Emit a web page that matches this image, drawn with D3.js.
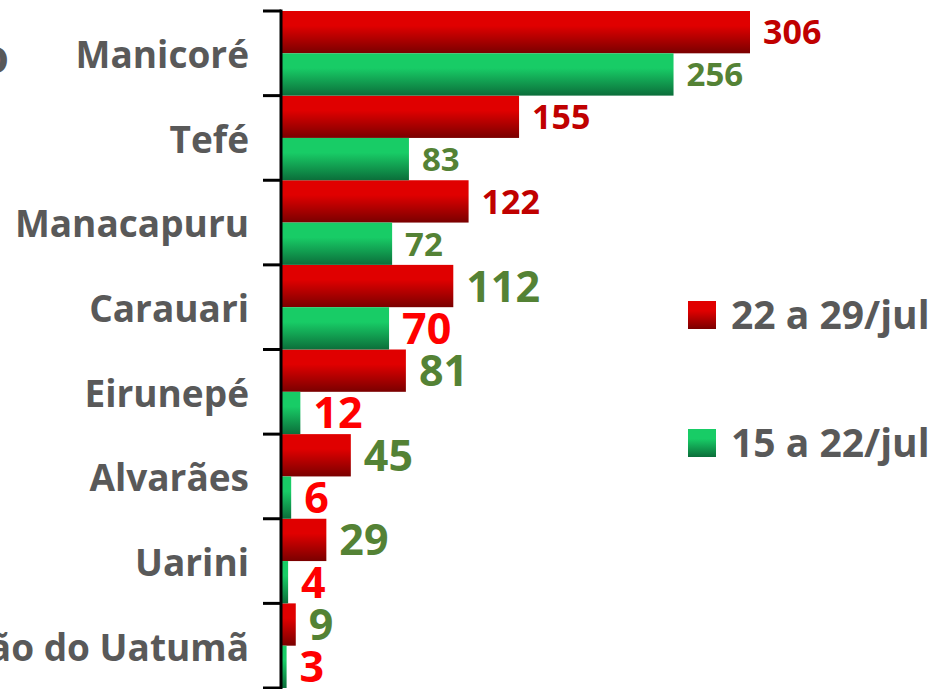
<!DOCTYPE html>
<html lang="pt">
<head>
  <meta charset="UTF-8">
  <title>Casos por município</title>
  <script src="https://d3js.org/d3.v7.min.js"></script>
  <style>
    body { margin: 0; background: #fff; }
    svg { display: block; font-family: "Open Sans", sans-serif; font-weight: bold; }
  </style>
</head>
<body>
<div id="chart"></div>
<script>
  // dados
  const municipios = ["Manicoré", "Tefé", "Manacapuru", "Carauari", "Eirunepé", "Alvarães", "Uarini", "São Sebastião do Uatumã"];
  const semanaAtual = [306, 155, 122, 112, 81, 45, 29, 9];   // 22 a 29/jul
  const semanaAnterior = [256, 83, 72, 70, 12, 6, 4, 3];     // 15 a 22/jul
  const series = ["22 a 29/jul", "15 a 22/jul"];

  const W = 934, H = 689;
  const axisX = 281;

  const svg = d3.select("#chart").append("svg")
    .attr("width", W).attr("height", H);

  // gradientes
  const defs = svg.append("defs");
  const grad = (id, c1, c2) => {
    const g = defs.append("linearGradient").attr("id", id)
      .attr("x1", 0).attr("y1", 0).attr("x2", 0).attr("y2", 1);
    g.append("stop").attr("offset", "0%").attr("stop-color", c1);
    g.append("stop").attr("offset", "35%").attr("stop-color", c1);
    g.append("stop").attr("offset", "100%").attr("stop-color", c2);
  };
  grad("gRed", "#e00000", "#7a0000");
  grad("gGreen", "#18cc66", "#0b6e3a");

  const y = d3.scaleBand().domain(municipios).range([11, 688]).padding(0);
  const x = d3.scaleLinear().domain([0, 306]).range([0, 468]);
  const half = y.bandwidth() / 2;

  const rows = municipios.map((m, i) => ({ m, a: semanaAtual[i], b: semanaAnterior[i], i }));

  // barras 22 a 29/jul
  svg.append("g").selectAll("rect").data(rows).enter().append("rect")
    .attr("x", axisX + 1)
    .attr("y", d => y(d.m))
    .attr("width", d => x(d.a))
    .attr("height", half)
    .attr("fill", "url(#gRed)");

  // barras 15 a 22/jul
  svg.append("g").selectAll("rect").data(rows).enter().append("rect")
    .attr("x", axisX + 1)
    .attr("y", d => y(d.m) + half)
    .attr("width", d => x(d.b))
    .attr("height", half)
    .attr("fill", "url(#gGreen)");

  // rótulos (a partir de Carauari as cores/tamanhos estão trocados no original)
  svg.append("g").selectAll("text").data(rows).enter().append("text")
    .attr("x", d => axisX + x(d.a) + 14)
    .attr("y", d => y(d.m) + half / 2)
    .attr("dy", "0.36em")
    .attr("fill", d => d.i < 3 ? "#c00000" : "#548235")
    .attr("font-size", d => d.i < 3 ? 34 : 43)
    .text(d => d.a);

  svg.append("g").selectAll("text").data(rows).enter().append("text")
    .attr("x", d => axisX + x(d.b) + 14)
    .attr("y", d => y(d.m) + half * 1.5)
    .attr("dy", "0.36em")
    .attr("fill", d => d.i < 3 ? "#548235" : "#ff0000")
    .attr("font-size", d => d.i < 3 ? 33 : 43)
    .text(d => d.b);

  // eixo vertical
  const ax = svg.append("g")
    .attr("transform", `translate(${axisX},0)`)
    .call(d3.axisLeft(y).tickSize(0).tickPadding(32))
    .call(g => g.select(".domain").remove());
  ax.selectAll("text")
    .attr("dy", "0.4em")
    .attr("font-size", 37)
    .attr("font-family", "'Open Sans', sans-serif")
    .attr("font-weight", "bold")
    .attr("fill", "#595959");

  const bounds = y.domain().map(d => y(d)).concat([y.range()[1]]);
  svg.append("g").selectAll("line").data(bounds).enter().append("line")
    .attr("x1", axisX - 18).attr("x2", axisX)
    .attr("y1", d => d).attr("y2", d => d)
    .attr("stroke", "#000").attr("stroke-width", 3);
  svg.append("line")
    .attr("x1", axisX).attr("x2", axisX)
    .attr("y1", y.range()[0] - 1.5).attr("y2", H)
    .attr("stroke", "#000").attr("stroke-width", 3);

  // pedaço de título cortado à esquerda
  svg.append("text")
    .attr("x", 9).attr("y", 73)
    .attr("text-anchor", "end")
    .attr("font-size", 46)
    .attr("fill", "#595959")
    .text("o");

  // legenda
  const leg = svg.append("g").selectAll("g").data(series).enter().append("g")
    .attr("transform", (d, i) => `translate(688,${301 + i * 128})`);
  leg.append("rect")
    .attr("width", 28).attr("height", 28)
    .attr("fill", (d, i) => i === 0 ? "url(#gRed)" : "url(#gGreen)");
  leg.append("text")
    .attr("x", 43).attr("y", 14).attr("dy", "0.36em")
    .attr("font-size", 39)
    .attr("fill", "#595959")
    .text(d => d);
</script>
</body>
</html>
